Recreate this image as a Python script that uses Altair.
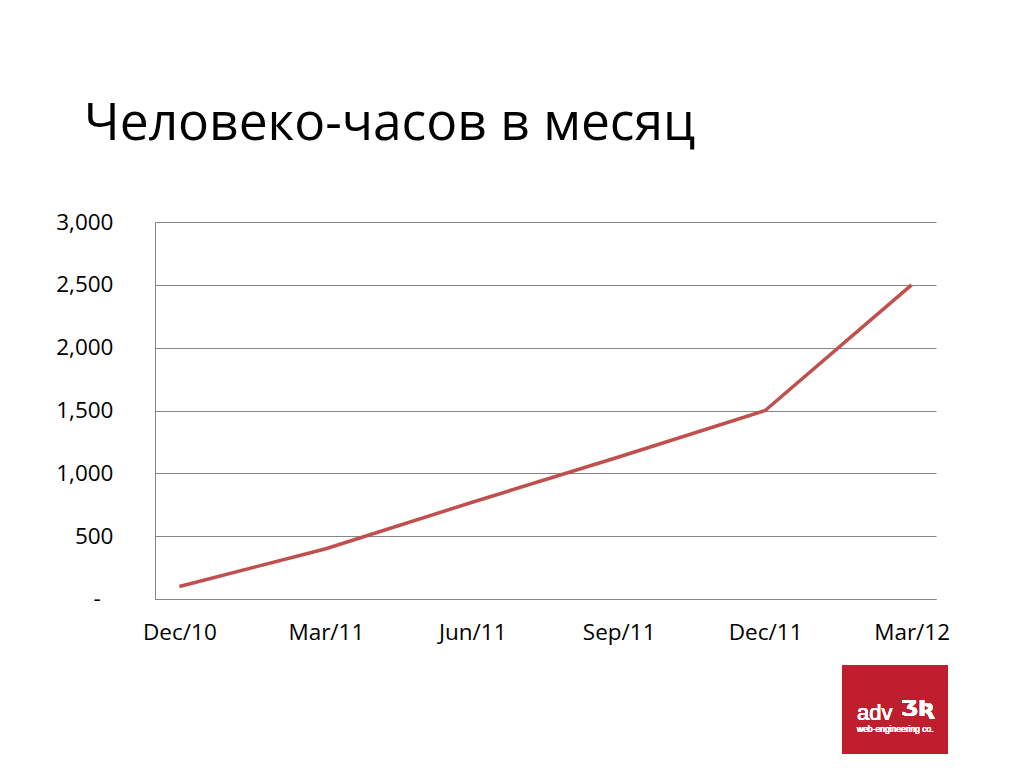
import altair as alt
import pandas as pd

# Monthly axis (Dec/10 .. Mar/12), quarterly labels
months = ["Dec/10", "Jan/11", "Feb/11", "Mar/11", "Apr/11", "May/11", "Jun/11",
          "Jul/11", "Aug/11", "Sep/11", "Oct/11", "Nov/11", "Dec/11",
          "Jan/12", "Feb/12", "Mar/12"]
point_months = ["Dec/10", "Mar/11", "Jun/11", "Sep/11", "Dec/11", "Mar/12"]
hours = [100, 400, 770, 1130, 1500, 2500]
y_ticks = [0, 500, 1000, 1500, 2000, 2500, 3000]
zero_label = "-"
title_text = "Человеко-часов в месяц"

df = pd.DataFrame({
    "month": point_months,
    "idx": [months.index(m) for m in point_months],
    "hours": hours,
})
zero_df = pd.DataFrame({"hours": [0], "label": [zero_label]})

label_array = "[" + ",".join("'" + m + "'" for m in months) + "]"
FONT = "Open Sans"

x_enc = alt.X(
    "idx:Q",
    scale=alt.Scale(domain=[-0.5, len(months) - 0.5], nice=False, zero=False),
    axis=alt.Axis(
        values=[months.index(m) for m in point_months],
        labelExpr=label_array + "[datum.value]",
        grid=False, ticks=False, domain=True, domainColor="#868686",
        domainWidth=1, labelFont=FONT, labelFontSize=22.5, labelColor="#000000",
        labelPadding=22, title=None, labelFlush=False,
    ),
)
y_enc = alt.Y(
    "hours:Q",
    scale=alt.Scale(domain=[0, 3000], nice=False),
    axis=alt.Axis(
        values=y_ticks,
        labelExpr="datum.value == 0 ? '' : format(datum.value, ',')",
        grid=True, gridColor="#868686", gridWidth=1, ticks=False,
        domain=True, domainColor="#868686", domainWidth=1,
        labelFont=FONT, labelFontSize=22.5, labelColor="#000000",
        labelPadding=42, title=None,
    ),
)

line = alt.Chart(df).mark_line(color="#C0504D", strokeWidth=3.5).encode(x=x_enc, y=y_enc)

zero_text = alt.Chart(zero_df).mark_text(
    font=FONT, fontSize=22.5, color="#000000", align="center",
    baseline="middle", clip=False
).encode(x=alt.value(-58), y=alt.Y("hours:Q"), text="label:N")

logo_bg = alt.Chart(df).mark_rect(color="#BE1E2D", clip=False).encode(
    x=alt.value(687), x2=alt.value(793), y=alt.value(443), y2=alt.value(546)
)
logo_text = alt.Chart(df).mark_text(
    text="adv", color="white", font="Liberation Sans", fontSize=22,
    align="left", baseline="alphabetic", clip=False
).encode(x=alt.value(702), y=alt.value(498))
logo_sub = alt.Chart(df).mark_text(
    text="web-engineering co.", color="white", font="Liberation Sans", fontSize=8.5,
    align="left", baseline="alphabetic", clip=False
).encode(x=alt.value(702), y=alt.value(510))
logo_fig = alt.Chart(df).mark_text(
    text="ƷƦ", color="white", font="DejaVu Sans", fontSize=22, fontWeight="bold",
    align="left", baseline="alphabetic", clip=False
).encode(x=alt.value(746), y=alt.value(494))

chart = alt.layer(line, zero_text, logo_bg, logo_text, logo_sub, logo_fig).properties(
    width=781, height=377,
    title=alt.TitleParams(
        title_text, anchor="start", frame="group", font=FONT, fontSize=51.5,
        fontWeight="normal", color="#000000", dx=-71, offset=20,
        baseline="alphabetic",
    ),
    autosize=alt.AutoSizeParams(type="none"),
    padding={"left": 147, "top": 214, "right": 72, "bottom": 155},
).configure_view(stroke=None)

chart.save("out.html", embed_options={"renderer": "svg", "actions": False})
